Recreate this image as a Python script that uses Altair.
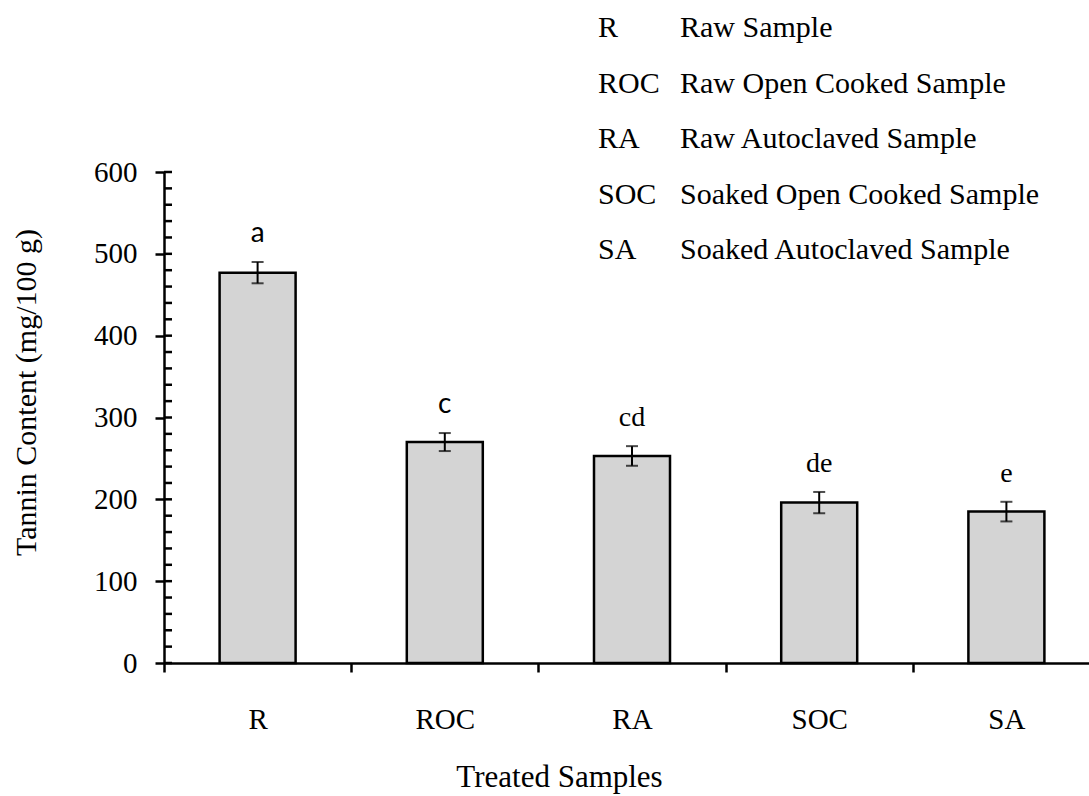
import altair as alt
import pandas as pd

# Tannin content of treated samples (mg/100 g), mean and standard deviation
samples = ["R", "ROC", "RA", "SOC", "SA"]
tannin = [477, 270, 253, 196, 185]
tannin_sd = [13, 11, 12, 13, 12]
letters = ["a", "c", "cd", "de", "e"]

# Key of sample codes shown at the top right
legend_codes = ["R", "ROC", "RA", "SOC", "SA"]
legend_names = [
    "Raw Sample",
    "Raw Open Cooked Sample",
    "Raw Autoclaved Sample",
    "Soaked Open Cooked Sample",
    "Soaked Autoclaved Sample",
]

# Y axis ticks: labelled majors and small inner ticks
y_major = [0, 100, 200, 300, 400, 500, 600]
y_minor = list(range(0, 601, 20))

SERIF = "Liberation Serif"
SANS = "Lato"

df = pd.DataFrame({"sample": samples, "tannin": tannin, "sd": tannin_sd, "letter": letters})
df["lo"] = df["tannin"] - df["sd"]
df["hi"] = df["tannin"] + df["sd"]

y_scale = alt.Scale(domain=[0, 600], nice=False, zero=True)
# one band per sample, bands touching so that axis ticks sit between samples
x_scale = alt.Scale(range=[0, 936], paddingInner=0, paddingOuter=0)

x_axis = alt.Axis(
    title="Treated Samples",
    tickBand="extent",
    domainColor="black", domainWidth=2.5,
    tickColor="black", tickWidth=2.5, tickSize=9,
    labelFont=SERIF, labelFontSize=29, labelColor="black", labelAngle=0,
    labelBaseline="alphabetic", labelPadding=56,
    titleFont=SERIF, titleFontSize=31, titleFontWeight="normal", titleColor="black",
    titleX=395, titleY=123, titleBaseline="alphabetic", titleAlign="center",
)
y_axis = alt.Axis(
    title="Tannin Content (mg/100 g)",
    values=y_major, grid=False,
    domainColor="black", domainWidth=2.5,
    tickColor="black", tickWidth=2.5, tickSize=9,
    labelFont=SERIF, labelFontSize=29, labelColor="black", labelPadding=18,
    titleFont=SERIF, titleFontSize=30, titleFontWeight="normal", titleColor="black",
    titleAngle=270, titleX=-138, titleY=220, titleBaseline="middle", titleAlign="center",
)

x_enc = alt.X("sample:N", sort=samples, scale=x_scale, axis=x_axis)
x_plain = alt.X("sample:N", sort=samples, scale=x_scale)

base = alt.Chart(df)

bars = base.mark_bar(fill="#d4d4d4", stroke="black", strokeWidth=2.5, width=76).encode(
    x=x_enc,
    y=alt.Y("tannin:Q", scale=y_scale, axis=y_axis),
)

err = base.mark_rule(color="black", strokeWidth=2).encode(
    x=x_plain, y=alt.Y("lo:Q", scale=y_scale), y2="hi:Q"
)
cap_hi = base.mark_tick(color="black", size=12, thickness=2).encode(
    x=x_plain, y=alt.Y("hi:Q", scale=y_scale)
)
cap_lo = base.mark_tick(color="black", size=12, thickness=2).encode(
    x=x_plain, y=alt.Y("lo:Q", scale=y_scale)
)

letters_sans = base.transform_filter(
    alt.FieldOneOfPredicate(field="sample", oneOf=["R", "ROC"])
).mark_text(font=SANS, fontSize=28, baseline="alphabetic", dy=-20, color="black").encode(
    x=x_plain, y=alt.Y("hi:Q", scale=y_scale), text="letter:N"
)
letters_serif = base.transform_filter(
    alt.FieldOneOfPredicate(field="sample", oneOf=["RA", "SOC", "SA"])
).mark_text(font=SERIF, fontSize=28, baseline="alphabetic", dy=-20, color="black").encode(
    x=x_plain, y=alt.Y("hi:Q", scale=y_scale), text="letter:N"
)

inner_ticks = alt.Chart(pd.DataFrame({"v": y_minor})).mark_rule(
    color="black", strokeWidth=2.5
).encode(
    y=alt.Y("v:Q", scale=y_scale),
    x=alt.value(0), x2=alt.value(8),
)

key = alt.Chart(pd.DataFrame({
    "codes": ["\n".join(legend_codes)],
    "names": ["\n".join(legend_names)],
}))
key_codes = key.mark_text(
    font=SERIF, fontSize=30, align="left", baseline="top",
    lineBreak="\n", lineHeight=55.5, color="black",
).encode(x=alt.value(434), y=alt.value(-159), text="codes:N")
key_names = key.mark_text(
    font=SERIF, fontSize=30, align="left", baseline="top",
    lineBreak="\n", lineHeight=55.5, color="black",
).encode(x=alt.value(516), y=alt.value(-159), text="names:N")

chart = alt.layer(
    bars, inner_ticks, err, cap_hi, cap_lo, letters_sans, letters_serif, key_codes, key_names
).properties(
    width=925,
    height=491,
    autosize="none",
    padding={"left": 164, "top": 172, "right": 0, "bottom": 133},
    background="white",
).configure_view(strokeWidth=0)

chart.save("out.html", embed_options={"renderer": "svg", "actions": False})
